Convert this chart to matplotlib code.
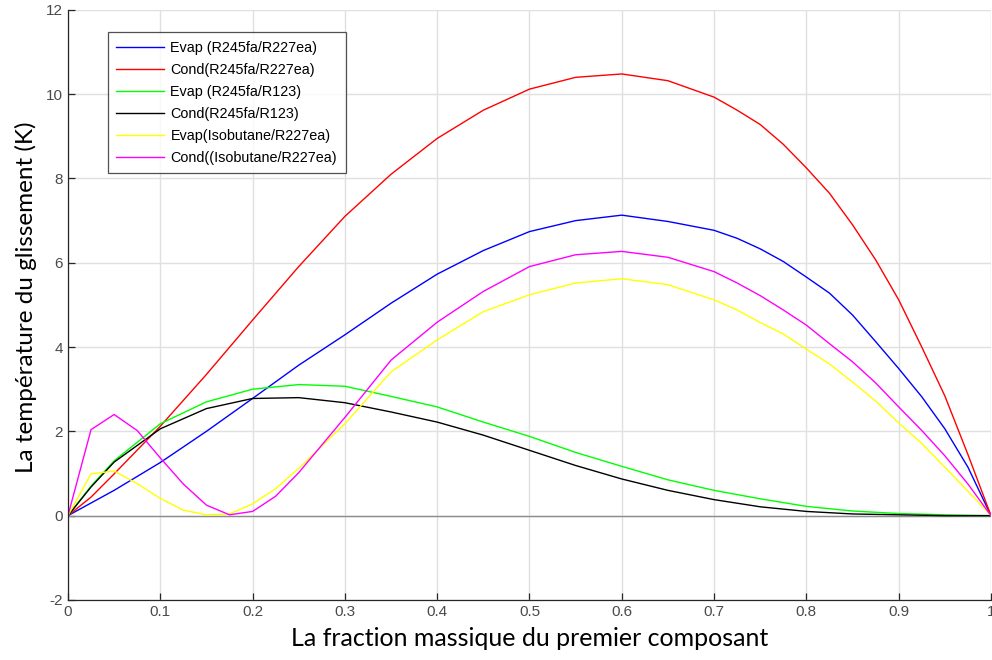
import numpy as np
import matplotlib.pyplot as plt

plt.rcParams['axes.unicode_minus'] = False

# fractions massiques du premier composant
x_r227 = [0, 0.025, 0.05, 0.1, 0.15, 0.2, 0.25, 0.3, 0.35, 0.4, 0.45, 0.5,
          0.55, 0.6, 0.65, 0.7, 0.725, 0.75, 0.775, 0.8, 0.825, 0.85, 0.875,
          0.9, 0.925, 0.95, 0.975, 1.0]
x_r123 = [0, 0.025, 0.05, 0.1, 0.15, 0.2, 0.25, 0.3, 0.35, 0.4, 0.45, 0.5,
          0.55, 0.6, 0.65, 0.7, 0.75, 0.8, 0.85, 0.9, 0.95, 1.0]
x_iso = [0, 0.025, 0.05, 0.075, 0.1, 0.125, 0.15, 0.175, 0.2, 0.225, 0.25,
         0.3, 0.35, 0.4, 0.45, 0.5, 0.55, 0.6, 0.65, 0.7, 0.725, 0.75, 0.775,
         0.8, 0.825, 0.85, 0.875, 0.9, 0.925, 0.95, 0.975, 1.0]

# glissement de temperature (K)
evap_r245_r227 = [0, 0.3, 0.6, 1.26, 2.0, 2.78, 3.57, 4.29, 5.04, 5.73, 6.29,
                  6.74, 7.0, 7.13, 6.98, 6.77, 6.58, 6.33, 6.03, 5.66, 5.28,
                  4.76, 4.13, 3.49, 2.82, 2.06, 1.15, 0]
cond_r245_r227 = [0, 0.44, 0.99, 2.12, 3.35, 4.64, 5.91, 7.1, 8.1, 8.95, 9.62,
                  10.12, 10.4, 10.48, 10.32, 9.93, 9.62, 9.28, 8.81, 8.25, 7.65,
                  6.9, 6.07, 5.12, 4.0, 2.84, 1.45, 0]
evap_r245_r123 = [0, 0.7, 1.3, 2.18, 2.7, 3.0, 3.11, 3.07, 2.83, 2.58, 2.22,
                  1.88, 1.5, 1.17, 0.85, 0.6, 0.4, 0.22, 0.11, 0.05, 0.02, 0]
cond_r245_r123 = [0, 0.68, 1.27, 2.06, 2.54, 2.78, 2.8, 2.68, 2.46, 2.22, 1.91,
                  1.55, 1.19, 0.87, 0.6, 0.38, 0.21, 0.1, 0.04, 0.02, 0.0, 0]
evap_iso_r227 = [0, 0.99, 1.06, 0.76, 0.41, 0.13, 0.02, 0.04, 0.28, 0.64, 1.12,
                 2.18, 3.41, 4.17, 4.84, 5.24, 5.52, 5.62, 5.48, 5.12, 4.88,
                 4.58, 4.31, 3.95, 3.6, 3.17, 2.72, 2.2, 1.71, 1.15, 0.58, 0]
cond_iso_r227 = [0, 2.04, 2.4, 2.02, 1.37, 0.75, 0.25, 0.02, 0.1, 0.46, 1.02,
                 2.33, 3.69, 4.59, 5.32, 5.91, 6.19, 6.27, 6.13, 5.79, 5.52,
                 5.22, 4.88, 4.52, 4.08, 3.65, 3.15, 2.58, 2.02, 1.42, 0.75, 0]

fig = plt.figure(figsize=(9.92, 6.6), dpi=100)
ax = fig.add_axes([0.0685, 0.091, 0.9305, 0.894])

ax.axhline(0, color='#8c8c8c', lw=1.0, zorder=1)
ax.plot(x_r227, evap_r245_r227, color='#0000ff', lw=1.0, label='Evap (R245fa/R227ea)')
ax.plot(x_r227, cond_r245_r227, color='#ff0000', lw=1.0, label='Cond(R245fa/R227ea)')
ax.plot(x_r123, evap_r245_r123, color='#00ff00', lw=1.0, label='Evap (R245fa/R123)')
ax.plot(x_r123, cond_r245_r123, color='#000000', lw=1.0, label='Cond(R245fa/R123)')
ax.plot(x_iso, evap_iso_r227, color='#ffff00', lw=1.0, label='Evap(Isobutane/R227ea)')
ax.plot(x_iso, cond_iso_r227, color='#ff00ff', lw=1.0, label='Cond((Isobutane/R227ea)')

ax.set_xlim(0, 1)
ax.set_ylim(-2, 12)
ax.set_xticks(np.arange(0, 1.01, 0.1))
ax.set_xticklabels(['0', '0.1', '0.2', '0.3', '0.4', '0.5', '0.6', '0.7',
                    '0.8', '0.9', '1'])
ax.set_yticks(np.arange(-2, 13, 2))
ax.grid(True, color='#e0e0e0', lw=1.0)
ax.set_axisbelow(True)

for s in ['top', 'right']:
    ax.spines[s].set_visible(False)
for s in ['left', 'bottom']:
    ax.spines[s].set_color('#262626')
    ax.spines[s].set_linewidth(0.9)
ax.tick_params(direction='in', length=5, width=0.9, color='#262626',
               labelcolor='#4a4a4a', labelsize=11)
for lab in ax.get_xticklabels() + ax.get_yticklabels():
    lab.set_family('Liberation Sans')

ax.set_xlabel('La fraction massique du premier composant', fontsize=18,
              family='Lato', color='#000000', labelpad=6)
ax.set_ylabel('La température du glissement (K)', fontsize=17.5,
              family='Lato', color='#000000')
ax.yaxis.set_label_coords(-0.034, 0.513)

leg = ax.legend(loc='upper left', bbox_to_anchor=(0.043, 0.962),
                prop={'family': 'Liberation Sans', 'size': 10.4},
                frameon=True, fancybox=False, edgecolor='#262626',
                handlelength=3.3, handletextpad=0.45, labelspacing=0.55,
                borderpad=0.6, borderaxespad=0)
leg.get_frame().set_linewidth(0.9)

fig.savefig('out.png', dpi=100)
